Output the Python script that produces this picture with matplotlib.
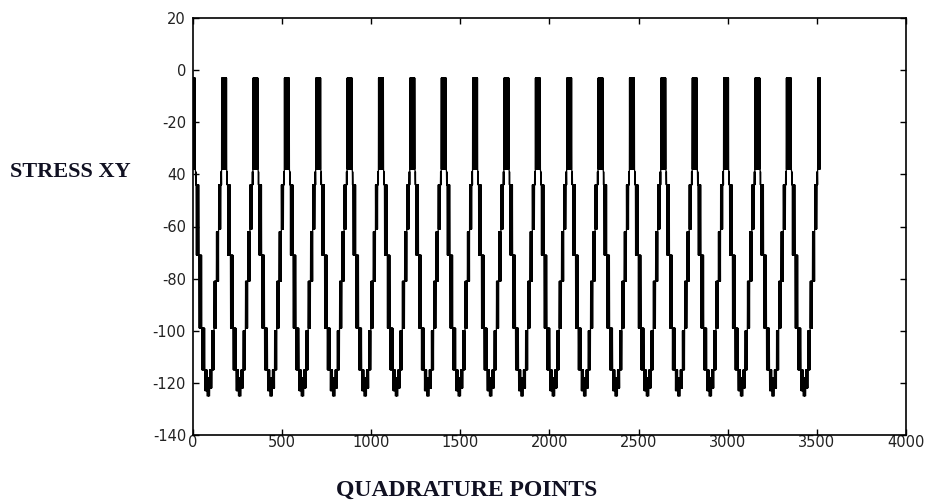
import numpy as np
import matplotlib
matplotlib.use('Agg')
import matplotlib.pyplot as plt

matplotlib.rcParams['axes.unicode_minus'] = False

# one load cycle of stress values at the quadrature points
# each step: number of points, upper value, lower value (values alternate inside a step)
step_len = [14, 4, 16, 15, 17, 13, 6, 3, 6, 12, 13, 13, 12, 13, 4, 15]
step_hi = [-3, -39, -44, -71, -99, -115, -125, -118, -125, -115, -100, -81, -62, -44, -39, -3]
step_lo = [-38, -44, -71, -99, -115, -123, -125, -125, -125, -122, -115, -99, -81, -61, -44, -38]
n_cycles = 20

x_ticks = [0, 500, 1000, 1500, 2000, 2500, 3000, 3500, 4000]
y_ticks = [-140, -120, -100, -80, -60, -40, -20, 0, 20]
y_tick_labels = ['-140', '-120', '-100', '-80', '-60', '40', '-20', '0', '20']

cycle = []
for n, hi, lo in zip(step_len, step_hi, step_lo):
    for k in range(n):
        cycle.append(hi if k % 2 == 0 else lo)
stress = np.tile(cycle, n_cycles)
points = np.arange(len(stress))

fig = plt.figure(figsize=(9.28, 5.04), dpi=100)
ax = fig.add_axes([193/928, 69/504, 713/928, 417/504])
ax.plot(points, stress, color='black', linewidth=0.9)

ax.set_xlim(0, 4000)
ax.set_ylim(-140, 20)
ax.set_xticks(x_ticks)
ax.set_yticks(y_ticks)
ax.set_yticklabels(y_tick_labels)
ax.tick_params(direction='in', length=4.5, width=1, top=True, right=True,
               labelsize=10.5, colors='black')
ax.tick_params(axis='x', pad=0)
ax.tick_params(axis='y', pad=5)
for lbl in ax.get_xticklabels() + ax.get_yticklabels():
    lbl.set_family('DejaVu Sans')
    lbl.set_color('#222222')
for s in ax.spines.values():
    s.set_linewidth(1.2)

fig.text(10/928, 1 - 172/504, 'STRESS XY', family='Liberation Serif', fontweight='bold',
         fontsize=16, ha='left', va='center', color='#111122')
fig.text(467/928, 1 - 490/504, 'QUADRATURE POINTS', family='Liberation Serif', fontweight='bold',
         fontsize=17, ha='center', va='center', color='#111122')

fig.savefig('out.png', dpi=100)
